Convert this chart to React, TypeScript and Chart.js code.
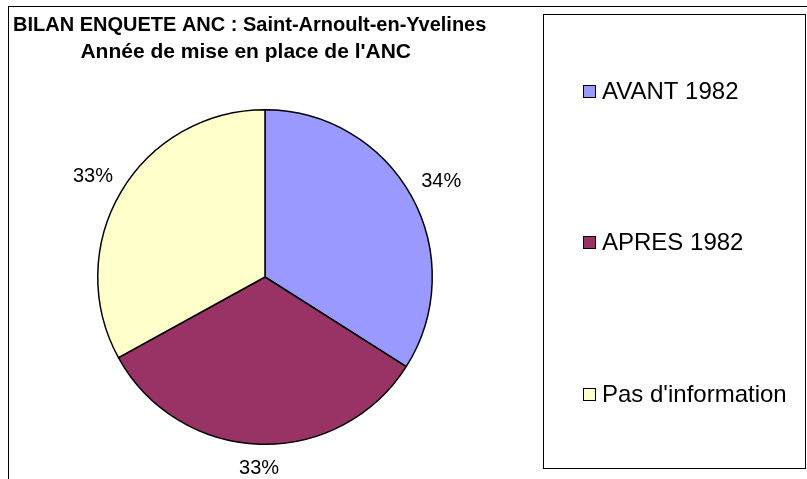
import React, { useEffect, useRef } from "react";
import { Chart, registerables } from "chart.js";

Chart.register(...registerables);

const categories = ["AVANT 1982", "APRES 1982", "Pas d'information"];
const values = [34, 33, 33];
const percentLabels = ["34%", "33%", "33%"];
const colors = ["#9999FF", "#993366", "#FFFFCC"];
const titleLines = ["BILAN ENQUETE ANC : Saint-Arnoult-en-Yvelines", "Année de mise en place de l'ANC"];

const FONT = "'Liberation Sans', Arial, sans-serif";

const decorPlugin = {
  id: "decor",
  beforeDraw(chart: any) {
    const ctx = chart.ctx;
    ctx.save();
    ctx.fillStyle = "#ffffff";
    ctx.fillRect(0, 0, chart.width, chart.height);
    ctx.strokeStyle = "#000000";
    ctx.lineWidth = 1;
    // outer chart frame (cropped at right/bottom)
    ctx.strokeRect(8.5, 6.5, chart.width + 20, chart.height + 20);
    // legend frame
    ctx.strokeRect(543.5, 14.5, 262, 454);
    ctx.restore();
  },
  afterDraw(chart: any) {
    const ctx = chart.ctx;
    ctx.save();
    // title
    ctx.fillStyle = "#000";
    ctx.font = `bold 20px ${FONT}`;
    ctx.textBaseline = "middle";
    ctx.textAlign = "center";
    const w1 = ctx.measureText(titleLines[0]).width;
    const cx = 13 + w1 / 2;
    ctx.fillText(titleLines[0], cx, 25);
    ctx.font = `bold 21px ${FONT}`;
    ctx.fillText(titleLines[1], cx - 4, 52);

    // legend
    ctx.font = `24px ${FONT}`;
    ctx.textAlign = "left";
    const legendCenters = [91, 242, 394];
    chart.data.labels.forEach((lab: string, i: number) => {
      const y = legendCenters[i];
      ctx.fillStyle = colors[i];
      ctx.fillRect(583, y - 6, 13, 13);
      ctx.strokeStyle = "#000";
      ctx.lineWidth = 1;
      ctx.strokeRect(583.5, y - 5.5, 12, 12);
      ctx.fillStyle = "#000";
      ctx.fillText(lab, 602, y + 1);
    });

    // percent labels outside
    const meta = chart.getDatasetMeta(0);
    ctx.font = `20px ${FONT}`;
    ctx.textAlign = "center";
    meta.data.forEach((arc: any, i: number) => {
      const { x, y, startAngle, endAngle, outerRadius } = arc.getProps(
        ["x", "y", "startAngle", "endAngle", "outerRadius"],
        true
      );
      const mid = (startAngle + endAngle) / 2;
      const dx = Math.cos(mid);
      const dy = Math.sin(mid);
      const tw = ctx.measureText(percentLabels[i]).width;
      const th = 20;
      const ext = Math.min(
        Math.abs(dx) > 1e-6 ? tw / 2 / Math.abs(dx) : 1e9,
        Math.abs(dy) > 1e-6 ? th / 2 / Math.abs(dy) : 1e9
      );
      const r = outerRadius + 13 + ext;
      ctx.fillText(percentLabels[i], x + dx * r, y + dy * r + 1);
    });
    ctx.restore();
  },
};

export default function App() {
  const ref = useRef<HTMLCanvasElement | null>(null);
  useEffect(() => {
    if (!ref.current) return;
    const chart = new Chart(ref.current, {
      type: "pie",
      data: {
        labels: categories,
        datasets: [
          {
            data: values,
            backgroundColor: colors,
            borderColor: "#000000",
            borderWidth: 1.5,
            borderAlign: "center",
          },
        ],
      },
      options: {
        animation: false,
        responsive: false,
        maintainAspectRatio: false,
        layout: { padding: { left: 97, right: 374, top: 109, bottom: 34 } },
        plugins: {
          legend: { display: false },
          title: { display: false },
          tooltip: { enabled: false },
        },
      },
      plugins: [decorPlugin],
    } as any);
    return () => chart.destroy();
  }, []);
  return (
    <div style={{ position: "fixed", left: 0, top: 0, width: 807, height: 479, background: "#fff" }}>
      <canvas ref={ref} width={807} height={479} style={{ width: 807, height: 479 }} />
    </div>
  );
}
